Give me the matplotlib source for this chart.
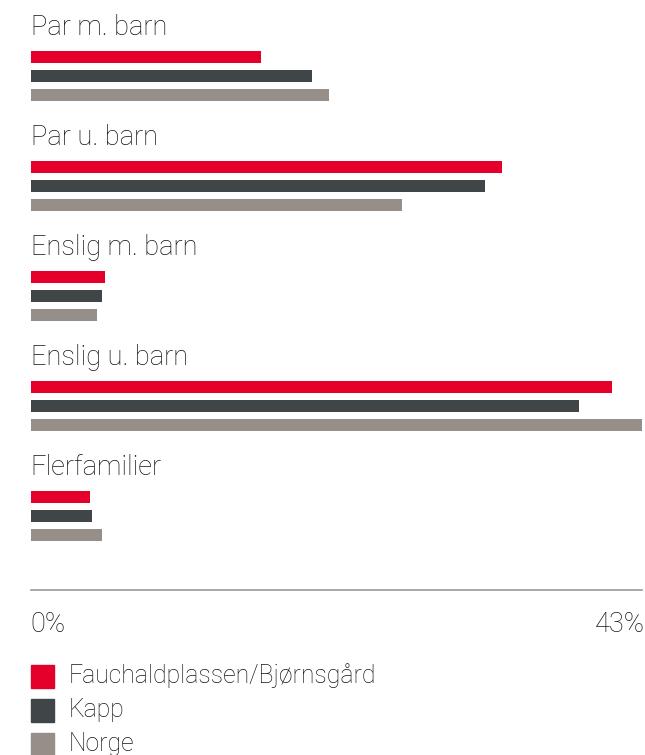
import matplotlib
matplotlib.use("Agg")
import matplotlib.pyplot as plt

categories = ["Par m. barn", "Par u. barn", "Enslig m. barn", "Enslig u. barn", "Flerfamilier"]
series_names = ["Fauchaldplassen/Bjørnsgård", "Kapp", "Norge"]
fauchald = [16.2, 33.2, 5.2, 40.9, 4.2]
kapp = [19.8, 32.0, 5.0, 38.6, 4.3]
norge = [21.0, 26.1, 4.7, 43.0, 5.0]
colors = ["#E4002B", "#404548", "#968E89"]
xmax = 43
tick_labels = ["0%", "43%"]

W, H = 645, 755
fig = plt.figure(figsize=(W / 100, H / 100), dpi=100)
x0, x1 = 30.6, 641.7
ax = fig.add_axes([x0 / W, 0, (x1 - x0) / W, 1])
ax.set_xlim(0, xmax)
ax.set_ylim(H, 0)
ax.axis("off")

font = dict(family=["Roboto", "DejaVu Sans"], fontweight="light", color="#151515")
fs_cat = 19.6
fs_tick = 19.6
fs_leg = 17.8

group_step = 110
label_base0 = 35
bar_y0 = 57
bar_step = 19
bar_h = 11.5
series = [fauchald, kapp, norge]
for i, cat in enumerate(categories):
    ax.text(0, label_base0 + group_step * i, cat, ha="left", va="baseline",
            fontsize=fs_cat, **font, clip_on=False)
    for j, vals in enumerate(series):
        ax.barh(bar_y0 + group_step * i + bar_step * j, vals[i], height=bar_h,
                color=colors[j], left=0)

axis_y = 590
ax.plot([0, xmax], [axis_y, axis_y], color="#9a9a9a", lw=1.2, clip_on=False)
ax.text(0, 632, tick_labels[0], ha="left", va="baseline", fontsize=fs_tick, **font, clip_on=False)
ax.text(xmax + 0.2, 632, tick_labels[1], ha="right", va="baseline", fontsize=fs_tick, **font, clip_on=False)

# legend
for j, name in enumerate(series_names):
    top = 665 + 34 * j
    fig.patches.append(plt.Rectangle((31 / W, 1 - (top + 23) / H), 22.5 / W, 23 / H,
                                     transform=fig.transFigure, color=colors[j]))
    fig.text(69 / W, 1 - (top + 18.5) / H, name, ha="left", va="baseline",
             fontsize=fs_leg, **font)

fig.savefig("out.png", dpi=100)
